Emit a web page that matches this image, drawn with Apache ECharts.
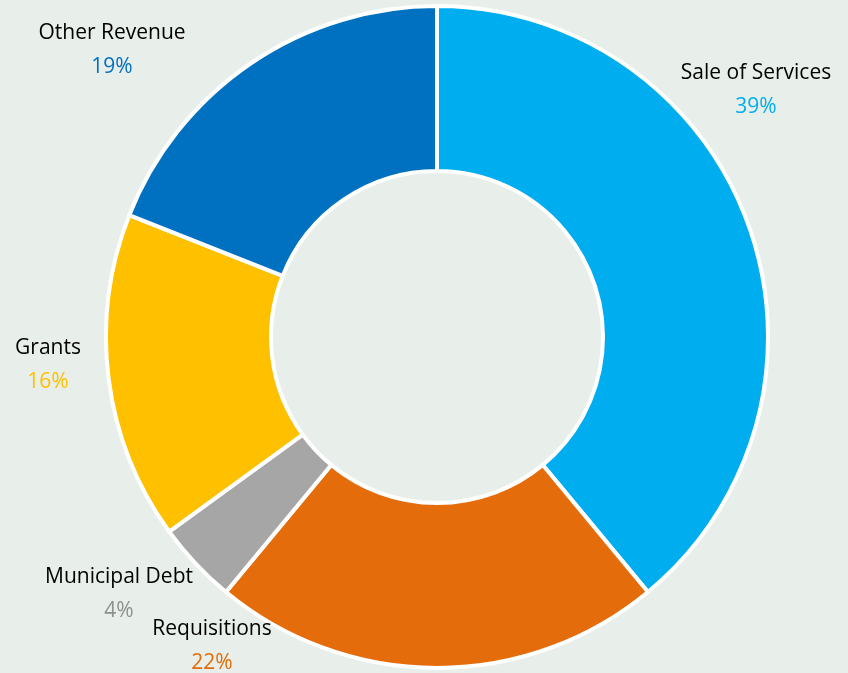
<!DOCTYPE html>
<html>
<head>
<meta charset="utf-8">
<script src="https://cdn.jsdelivr.net/npm/echarts@6/dist/echarts.min.js"></script>
<style>
  html, body { margin: 0; padding: 0; background: #e8efea; }
  #chart { width: 848px; height: 673px; }
</style>
</head>
<body>
<div id="chart"></div>
<script>
// Revenue sources, in clockwise order from 12 o'clock
const categories = ['Sale of Services', 'Requisitions', 'Municipal Debt', 'Grants', 'Other Revenue'];
const shares = [39, 22, 4, 16, 19];

const sliceColors = ['#00aeef', '#e46c0a', '#a6a6a6', '#ffc000', '#0070c0'];
const pctColors = ['#00aeef', '#e46c0a', '#8f8f8f', '#ffc000', '#0070c0'];
// centre of each two-line label block (name above, percent below)
const labelCentres = [[756, 90], [212, 646], [119, 594], [48, 365], [112, 50]];

const chart = echarts.init(document.getElementById('chart'), null, { renderer: 'canvas' });

const rich = {};
pctColors.forEach((c, i) => {
  rich['p' + i] = { color: c, fontSize: 21, fontFamily: 'Open Sans', lineHeight: 34 };
});
rich.n = { color: '#000000', fontSize: 21, fontFamily: 'Open Sans', lineHeight: 34 };

chart.setOption({
  backgroundColor: '#e8efea',
  animation: false,
  series: [{
    type: 'pie',
    center: [437, 337],
    radius: [166, 331],
    startAngle: 90,
    clockwise: true,
    avoidLabelOverlap: false,
    itemStyle: { borderColor: '#ffffff', borderWidth: 4 },
    label: {
      show: true,
      position: 'outside',
      align: 'center',
      formatter: p => '{n|' + p.name + '}\n{p' + p.dataIndex + '|' + p.value + '%}',
      rich: rich
    },
    labelLine: { show: false },
    labelLayout: p => ({
      x: labelCentres[p.dataIndex][0],
      y: labelCentres[p.dataIndex][1],
      align: 'center',
      verticalAlign: 'middle'
    }),
    emphasis: { disabled: true },
    data: categories.map((name, i) => ({
      name: name,
      value: shares[i],
      itemStyle: { color: sliceColors[i] }
    }))
  }]
});
</script>
</body>
</html>
